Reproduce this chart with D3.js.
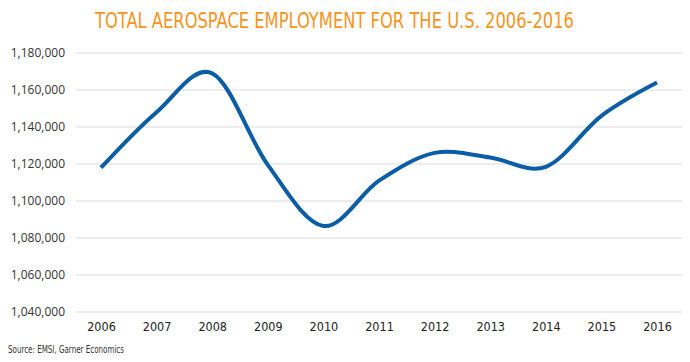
<!DOCTYPE html>
<html>
<head>
<meta charset="utf-8">
<script src="https://cdn.jsdelivr.net/npm/d3@7"></script>
<style>
  html, body { margin: 0; padding: 0; background: #fff; }
  svg { display: block; }
</style>
</head>
<body>
<svg id="chart" width="690" height="362"></svg>
<script>
const years = ["2006","2007","2008","2009","2010","2011","2012","2013","2014","2015","2016"];
const employment = [1118000, 1148000, 1169000, 1119500, 1086500, 1111000, 1126000, 1123500, 1118500, 1146000, 1164000];
const yTicks = [1040000, 1060000, 1080000, 1100000, 1120000, 1140000, 1160000, 1180000];
const titleText = "TOTAL AEROSPACE EMPLOYMENT FOR THE U.S. 2006-2016";
const sourceText = "Source: EMSI, Garner Economics";

const svg = d3.select("#chart");
const narrow = "'Liberation Sans Narrow', 'DejaVu Sans Condensed', 'Roboto Condensed', sans-serif";

const x = d3.scalePoint().domain(years).range([101, 657]);
const y = d3.scaleLinear().domain([1040000, 1180000]).range([312, 53]);

// title
svg.append("text")
  .attr("x", 95).attr("y", 28)
  .attr("font-family", narrow)
  .attr("font-stretch", "condensed")
  .attr("font-size", 21)
  .attr("fill", "#F7941D")
  .attr("textLength", 479)
  .attr("lengthAdjust", "spacingAndGlyphs")
  .text(titleText);

// gridlines
svg.append("g").selectAll("line").data(yTicks).join("line")
  .attr("x1", 76).attr("x2", 682)
  .attr("y1", d => y(d)).attr("y2", d => y(d))
  .attr("stroke", "#dcdcdc").attr("stroke-width", 1.2);

// y axis labels
const yAxis = d3.axisLeft(y).tickValues(yTicks).tickSize(0).tickPadding(0)
  .tickFormat(d3.format(","));
const gy = svg.append("g").attr("transform", "translate(65,0)").call(yAxis);
gy.select(".domain").remove();
gy.selectAll("text")
  .attr("font-family", "'Open Sans', sans-serif")
  .attr("font-size", 12)
  .attr("fill", "#333");

// x axis labels
const xAxis = d3.axisBottom(x).tickSize(0).tickPadding(0);
const gx = svg.append("g").attr("transform", "translate(0,322)").call(xAxis);
gx.select(".domain").remove();
gx.selectAll("text")
  .attr("font-family", narrow)
  .attr("font-stretch", "condensed")
  .attr("font-size", 12.5)
  .attr("fill", "#222");

// line
const line = d3.line()
  .x((d, i) => x(years[i]))
  .y(d => y(d))
  .curve(d3.curveCardinal.tension(0));
svg.append("path")
  .datum(employment)
  .attr("d", line)
  .attr("fill", "none")
  .attr("stroke", "#0B5DA5")
  .attr("stroke-width", 4)
  .attr("stroke-linejoin", "round");

// source
svg.append("text")
  .attr("x", 8).attr("y", 353)
  .attr("font-family", narrow)
  .attr("font-stretch", "condensed")
  .attr("font-size", 10)
  .attr("fill", "#333")
  .attr("textLength", 116)
  .attr("lengthAdjust", "spacingAndGlyphs")
  .text(sourceText);
</script>
</body>
</html>
